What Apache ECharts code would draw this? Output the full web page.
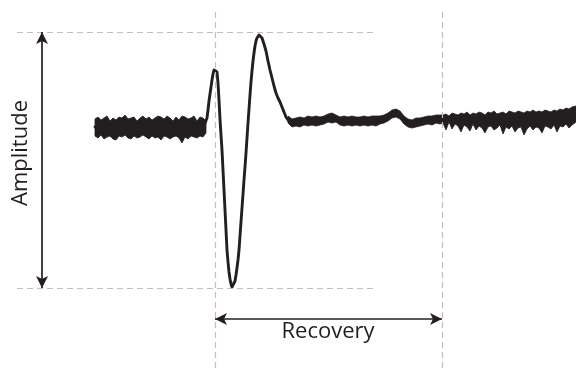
<!DOCTYPE html>
<html>
<head>
<meta charset="utf-8">
<script src="https://cdn.jsdelivr.net/npm/echarts@6/dist/echarts.min.js"></script>
<style>
html,body{margin:0;padding:0;background:#fff;}
#chart{width:576px;height:370px;}
</style>
</head>
<body>
<div id="chart"></div>
<script>
// ---- data (time index, amplitude with baseline = 0) ----
var signalX = [95,150,204,206,207,208,209,210,211,212,213,214,215,216,217,218,219,220,221,222,223,224,225,226,227,228,229,230,231,232,233,234,235,236,237,238,239,240,241,242,243,244,245,246,247,248,249,250,251,252,253,254,255,256,257,258,259,260,261,262,264,266,268,270,272,274,276,278,280,282,284,286,288,292,300,310,320,330,340,360,380,388,394,398,404,410,420,440,470,500,530,560,576];
var signalY = [0,0,1,3,9,17,26,33,40,47,53,57,59,59,55,44,27,8,-8,-23,-43,-63,-83,-103,-123,-135,-145,-152,-157,-160,-160,-158,-154,-148,-141,-133,-123,-109,-95,-81,-67,-53,-40,-26,-11,4,18,32,45,56,66,74,81,86,89,91,92,92,91,89,83,76,66,57,49,41,34,29,25,20,15,10,7,4,5,6,6,9,6,6,7,10,14,14,7,3,5,8,7,7,8,10,13];

// noise envelope (upper / lower edge of the noisy trace)
var noiseX = [95,98,101,104,107,110,113,116,119,122,125,128,131,134,137,140,143,146,149,152,155,158,161,164,167,170,173,176,179,182,185,188,191,194,197,200,203,206,
  288,292,296,300,304,308,312,316,320,324,328,332,336,340,344,348,352,356,360,364,368,372,376,380,384,388,392,396,400,404,408,412,416,420,424,428,432,436,440,
  443,446,449,452,455,458,461,464,467,470,473,476,479,482,485,488,491,494,497,500,503,506,509,512,515,518,521,524,527,530,533,536,539,542,545,548,551,554,557,560,563,566,569,572,576];
var noiseHi = [8,10,7,9,11,6,9,7,10,9,12,8,9,10,6,9,11,8,10,7,9,11,10,8,11,9,6,10,7,11,10,8,9,11,6,10,9,6,
  11,8,9,10,9,11,10,11,10,11,13,14,12,10,11,10,11,10,10,11,10,11,11,11,12,14,17,18,16,11,8,7,9,9,10,11,11,12,12,
  12,13,11,14,13,12,14,13,15,12,14,13,15,14,12,15,14,16,13,14,15,13,16,15,14,16,15,14,16,15,17,15,16,15,17,16,15,17,16,18,17,19,18,20,21];
var noiseLo = [-9,-11,-8,-12,-10,-9,-12,-13,-9,-10,-8,-11,-12,-9,-11,-10,-8,-10,-12,-9,-11,-10,-13,-9,-10,-12,-10,-9,-11,-16,-10,-12,-9,-10,-11,-9,-10,-6,
  4,0,1,0,2,1,2,1,2,3,5,4,5,2,1,2,1,2,1,2,1,2,1,3,4,6,9,10,8,3,0,-1,0,1,2,3,2,4,3,
  4,-3,5,-2,3,1,-5,2,0,-4,3,-3,1,-1,-6,0,1,-3,-1,2,-7,0,-2,1,-5,-1,0,-8,-2,1,-3,0,-1,-6,1,0,-2,2,-5,1,0,3,-1,2,5];

// annotation values
var amplitudeLevels = [95, -161];      // peak top and trough bottom
var amplitudeLineSpan = [17, 377];     // horizontal extent of the amplitude guides
var amplitudeArrowX = [42];
var timeMarkers = [215, 442];          // stimulus onset and recovery
var timeMarkerSpan = [115, -243];
var recoveryArrowY = [-192];
var labels = ['Amplitude', 'Recovery'];

var ink = '#231f20';
var guide = '#bfbfbf';

var chart = echarts.init(document.getElementById('chart'), null, {renderer: 'canvas'});

var signalData = signalX.map(function (x, i) { return [x, signalY[i]]; });

function noiseRender(params, api) {
  var children = [];
  var seg = [];
  function flush() {
    if (seg.length > 1) {
      var up = [], down = [];
      seg.forEach(function (i) {
        up.push(api.coord([noiseX[i], noiseHi[i]]));
        down.push(api.coord([noiseX[i], noiseLo[i]]));
      });
      children.push({
        type: 'polygon',
        shape: {points: up.concat(down.reverse())},
        style: {fill: ink, stroke: ink, lineWidth: 0.8}
      });
    }
    seg = [];
  }
  for (var i = 0; i < noiseX.length; i++) {
    if (i > 0 && noiseX[i] - noiseX[i - 1] > 10) flush();
    seg.push(i);
  }
  flush();
  return {type: 'group', children: children};
}

var dashed = {color: guide, type: [6, 4], width: 1.2};
var solid = {color: ink, type: 'solid', width: 1.7};

var markData = [
  [{coord: [amplitudeLineSpan[0], amplitudeLevels[0]], lineStyle: dashed}, {coord: [amplitudeLineSpan[1], amplitudeLevels[0]]}],
  [{coord: [amplitudeLineSpan[0], amplitudeLevels[1]], lineStyle: dashed}, {coord: [amplitudeLineSpan[1], amplitudeLevels[1]]}],
  [{coord: [timeMarkers[0], timeMarkerSpan[0]], lineStyle: dashed}, {coord: [timeMarkers[0], timeMarkerSpan[1]]}],
  [{coord: [timeMarkers[1], timeMarkerSpan[0]], lineStyle: dashed}, {coord: [timeMarkers[1], timeMarkerSpan[1]]}],
  [{coord: [amplitudeArrowX[0], amplitudeLevels[0]], lineStyle: solid, symbol: 'arrow'}, {coord: [amplitudeArrowX[0], amplitudeLevels[1]], symbol: 'arrow'}],
  [{coord: [timeMarkers[0], recoveryArrowY[0]], lineStyle: solid, symbol: 'arrow'}, {coord: [timeMarkers[1], recoveryArrowY[0]], symbol: 'arrow'}]
];

chart.setOption({
  animation: false,
  backgroundColor: '#ffffff',
  grid: {left: 0, right: 0, top: 0, bottom: 0},
  xAxis: {type: 'value', min: 0, max: 576, show: false},
  yAxis: {type: 'value', min: -243, max: 127, show: false},
  series: [
    {
      type: 'line',
      data: signalData,
      showSymbol: false,
      smooth: false,
      lineStyle: {color: ink, width: 2.9, join: 'round', cap: 'round'},
      silent: true,
      z: 3,
      markLine: {
        silent: true,
        symbol: 'none',
        symbolSize: [9, 12],
        label: {show: false},
        emphasis: {disabled: true},
        animation: false,
        data: markData
      }
    },
    {
      type: 'custom',
      data: [0],
      renderItem: noiseRender,
      silent: true,
      z: 2
    }
  ]
});

var p1 = chart.convertToPixel({gridIndex: 0}, [21, 127 - 153]);
var p2 = chart.convertToPixel({gridIndex: 0}, [328, 127 - 332]);
chart.setOption({
  graphic: [
    {type: 'text', x: p1[0], y: p1[1], rotation: Math.PI / 2,
      style: {text: labels[0], fill: ink, font: '22px "Open Sans"', textAlign: 'center', textVerticalAlign: 'middle'}},
    {type: 'text', x: p2[0], y: p2[1],
      style: {text: labels[1], fill: ink, font: '22px "Open Sans"', textAlign: 'center', textVerticalAlign: 'middle'}}
  ]
});
</script>
</body>
</html>
